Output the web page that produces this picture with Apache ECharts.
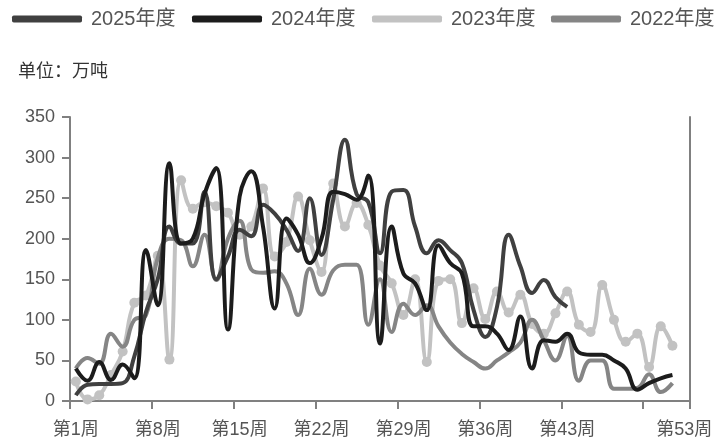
<!DOCTYPE html>
<html><head><meta charset="utf-8">
<script src="https://cdn.jsdelivr.net/npm/echarts@6/dist/echarts.min.js"></script>
<style>html,body{margin:0;padding:0;background:#fff}#c{width:722px;height:447px}</style>
</head><body><div id="c"></div>
<script>
const weeks = [];
for (let i = 1; i <= 53; i++) weeks.push('第' + i + '周');
const seriesNames = ['2025年度', '2024年度', '2023年度', '2022年度'];
const y2025 = [7,20,21,21,22,55,110,150,215,194,194,258,150,178,211,203,242,231,211,185,250,180,248,322,255,245,182,258,260,215,182,198,186,170,112,79,116,205,166,133,149,128,116,null,null,null,null,null,null,null,null,null,null];
const y2024 = [40,25,48,26,45,28,186,118,293,194,200,255,287,88,252,283,215,114,225,205,170,200,258,255,248,278,71,215,157,145,112,192,170,157,92,92,83,63,104,40,75,73,83,60,57,57,50,40,14,22,28,32,null];
const y2023 = [24,2,7,32,61,121,130,179,51,272,237,245,240,232,205,215,262,178,196,252,198,159,268,215,244,217,167,145,106,150,48,148,150,96,139,101,135,109,131,95,83,108,135,94,85,143,100,73,83,42,92,68,null];
const y2022 = [40,53,46,83,67,100,106,176,200,198,166,205,149,200,222,162,158,160,145,106,163,131,161,168,168,94,150,85,120,106,118,92,72,58,48,40,50,60,72,100,75,50,80,25,50,50,15,15,16,33,11,22,null];
const yTicks = [0, 50, 100, 150, 200, 250, 300, 350];

const colors = ['#404040', '#1c1c1c', '#c2c2c2', '#858585'];
const numFont = '"Liberation Sans", Arial, "Noto Sans CJK SC", sans-serif';
const legendLeft = [7, 187, 367, 546];

const chart = echarts.init(document.getElementById('c'), null, {renderer: 'canvas'});
const data = [y2025, y2024, y2023, y2022];
chart.setOption({
  animation: false,
  color: colors,
  legend: seriesNames.map(function (n, k) {
    return {
      top: 4, left: legendLeft[k], itemWidth: 70, itemHeight: 7, icon: 'roundRect',
      textStyle: {fontSize: 20, color: '#555', fontFamily: numFont, padding: [0,0,0,4]},
      data: [n]
    };
  }),
  graphic: [{type: 'text', left: 18, top: 61, style: {text: '单位：万吨', fontSize: 18, fill: '#333', fontFamily: '"Noto Sans CJK SC", sans-serif'}}],
  grid: {left: 70, right: 32, top: 117, bottom: 46, containLabel: false},
  xAxis: {
    type: 'category', data: weeks, boundaryGap: true,
    axisLine: {lineStyle: {color: '#808080', width: 2}},
    axisTick: {show: true, length: 8, interval: function (i) { return i % 7 === 0; }, lineStyle: {color: '#808080', width: 2}},
    axisLabel: {interval: function (i) { return (i % 7 === 0 && i < 49) || i === 52; }, fontSize: 18, color: '#555', fontFamily: numFont, margin: 20},
    splitLine: {show: false}
  },
  yAxis: [{
    type: 'value', min: yTicks[0], max: yTicks[yTicks.length - 1], interval: 50,
    axisLine: {show: true, lineStyle: {color: '#808080', width: 2}},
    axisTick: {show: true, length: 8, lineStyle: {color: '#808080', width: 2}},
    axisLabel: {fontSize: 18, color: '#555', fontFamily: numFont, margin: 15},
    splitLine: {show: false}
  }, {
    type: 'value', position: 'right', min: yTicks[0], max: yTicks[yTicks.length - 1], interval: 50,
    axisLine: {show: true, lineStyle: {color: '#808080', width: 2}},
    axisTick: {show: false}, axisLabel: {show: false}, splitLine: {show: false}
  }],
  series: seriesNames.map(function (n, k) {
    const isMark = k === 2;
    return {
      name: n, type: 'line', data: data[k], smooth: 0.45, connectNulls: false,
      z: [4, 5, 2, 3][k],
      showSymbol: isMark, showAllSymbol: true, symbol: 'circle', symbolSize: isMark ? 10 : 0,
      itemStyle: {color: colors[k]},
      lineStyle: {width: 4, color: colors[k]}
    };
  })
});
</script></body></html>
